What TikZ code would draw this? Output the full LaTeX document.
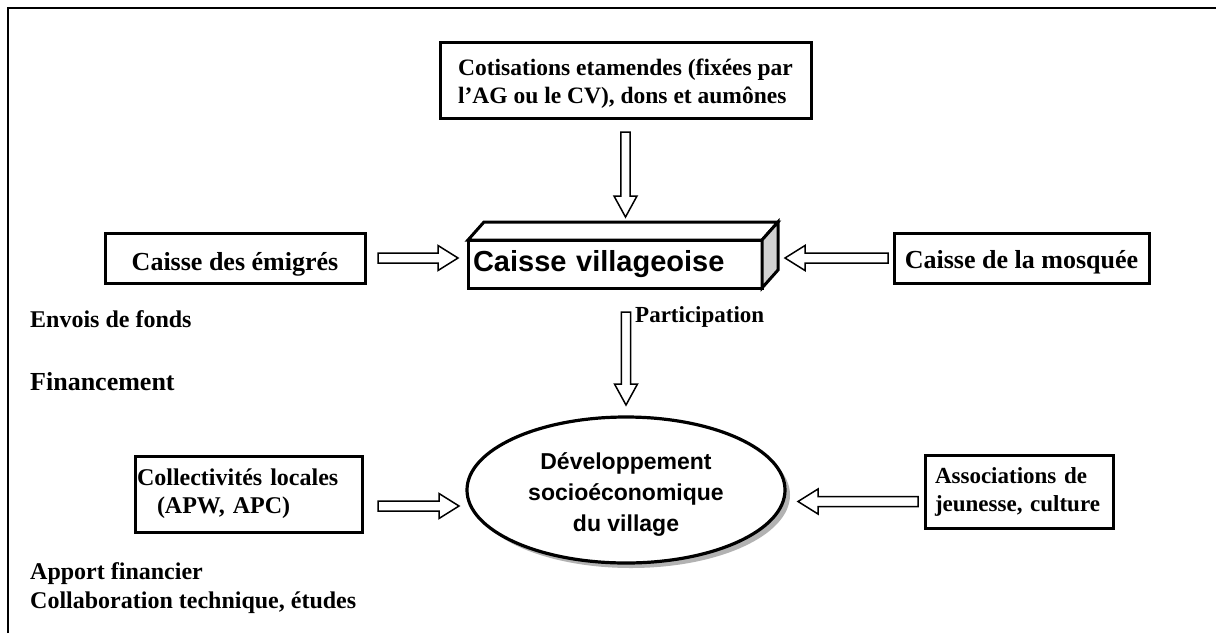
\documentclass[tikz,border=0pt]{standalone}
\usepackage{fontspec}
\setmainfont{Liberation Serif}
\newfontfamily\arialf{Liberation Sans}
\usetikzlibrary{calc,shapes.geometric,shadows}
\newcommand\hdown[2]{\draw[arr] let \p1=(#1), \p2=(#2) in
  (\x1-4.7pt,\y1) -- (\x1+4.7pt,\y1) -- (\x1+4.7pt,\y2+21pt) -- (\x1+11.5pt,\y2+21pt)
  -- (\x1,\y2) -- (\x1-11.5pt,\y2+21pt) -- (\x1-4.7pt,\y2+21pt) -- cycle;}
\newcommand\hright[2]{\draw[arr] let \p1=(#1), \p2=(#2) in
  (\x1,\y1-5pt) -- (\x2-20pt,\y1-5pt) -- (\x2-20pt,\y1-12.5pt) -- (\x2,\y1)
  -- (\x2-20pt,\y1+12.5pt) -- (\x2-20pt,\y1+5pt) -- (\x1,\y1+5pt) -- cycle;}
\newcommand\hleft[2]{\draw[arr] let \p1=(#1), \p2=(#2) in
  (\x1,\y1-5pt) -- (\x2+20pt,\y1-5pt) -- (\x2+20pt,\y1-12.5pt) -- (\x2,\y1)
  -- (\x2+20pt,\y1+12.5pt) -- (\x2+20pt,\y1+5pt) -- (\x1,\y1+5pt) -- cycle;}
\newcommand\topstrut[1]{\rule{0pt}{#1}}
\begin{document}
\begin{tikzpicture}[x=1pt,y=-1pt,
  box/.style={draw,line width=3pt,fill=white,inner sep=0pt,outer sep=0pt},
  arr/.style={draw,line width=1.5pt,fill=white,line join=miter},
  tnr/.style={font=\bfseries\fontsize{#1}{28}\selectfont},
  lab/.style={anchor=base west,inner sep=0pt,font=\bfseries\fontsize{#1}{28}\selectfont}]
\useasboundingbox (0,0) rectangle (1216,633);
\fill[white] (0,0) rectangle (1216,633);
% frame
\draw[line width=2.5pt] (8,633) -- (8,8) -- (1216,8);
% top box
\node[box, minimum width=371pt, minimum height=76pt, align=left, tnr=23.5] (top) at (625.5,80)
  {\topstrut{23pt}Cotisations etamendes (fixées par\\l’AG ou le CV), dons et aumônes};
% caisse villageoise (3D box)
\node[box, text width=284pt, inner xsep=5pt, minimum height=48pt, align=left,
  font=\arialf\bfseries\fontsize{29}{32}\selectfont] (caisse) at (615,264) {Caisse villageoise};
\draw[line width=3pt, fill=white, line join=miter] (caisse.north west) -- ++(16,-18)
  -- ($(caisse.north east)+(16,-18)$) -- (caisse.north east) -- cycle;
\draw[line width=3pt, fill=gray!35, line join=miter] (caisse.north east) -- ++(16,-18)
  -- ($(caisse.south east)+(16,-18)$) -- (caisse.south east) -- cycle;
% side boxes
\node[box, minimum width=260pt, minimum height=50pt, tnr=26, text height=30pt, text depth=6pt] (emig) at (235,258) {Caisse des émigrés};
\node[box, minimum width=255pt, minimum height=50pt, tnr=26, text height=26pt, text depth=6pt] (mosq) at (1021.5,258) {Caisse de la mosquée};
% ellipse
\node[ellipse, draw, line width=3.2pt, fill=white, inner sep=0pt, outer sep=0pt,
  minimum width=318pt, minimum height=146pt, align=center,
  drop shadow={shadow xshift=5pt, shadow yshift=-5pt, fill=gray!60, opacity=1},
  font=\arialf\bfseries\fontsize{23}{31}\selectfont] (ell) at (626,490)
  {\topstrut{26pt}Développement\\socioéconomique\\du village};
% bottom boxes
\node[box, text width=223pt, inner xsep=2pt, minimum height=76pt, align=left, tnr=24] (coll) at (248.5,494)
  {Collectivités locales\\\hspace*{20pt}(APW, APC)};
\node[box, text width=168pt, inner xsep=10pt, minimum height=73pt, align=left, tnr=23] (assoc) at (1019,491.5)
  {Associations de\\jeunesse, culture};
% labels
\node[lab=24] (l1) at (30,327) {Envois de fonds};
\node[lab=26] (l2) at (30,390) {Financement};
\node[lab=24] (l3) at (30,579) {Apport financier};
\node[lab=24] (l4) at (30,608) {Collaboration technique, études};
\node[lab=23] (l5) at (635,322) {Participation};
% hollow arrows
\hdown{$(top.south)+(0,14)$}{$(caisse.north)+(10.5,-23)$}
\hright{$(emig.east)+(13,0)$}{$(caisse.west)+(-10,0)$}
\hleft{$(mosq.west)+(-6,0)$}{$(caisse.east)+(23,0)$}
\hdown{$(ell.north)+(0,-105)$}{$(ell.north)+(0,-12)$}
\hright{$(coll.east)+(16,12)$}{$(ell.west)+(-8,0)$}
\hleft{$(assoc.west)+(-7,10)$}{$(ell.east)+(13,0)$}
\end{tikzpicture}
\end{document}
